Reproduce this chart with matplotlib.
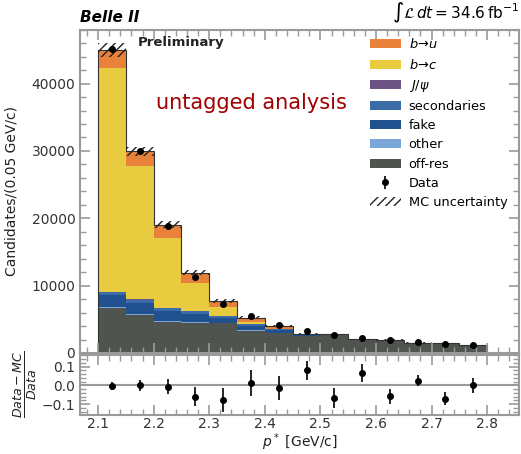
import numpy as np
import matplotlib
matplotlib.use("Agg")
import matplotlib.pyplot as plt

# bin edges in p* [GeV/c]
edges = np.arange(2.10, 2.801, 0.05)

# stacked MC components, bottom to top
off_res = [6730, 5640, 4600, 4500, 4400, 3320, 2920, 2520, 2740, 2000, 1965, 1520, 1480, 1180]
other = [120, 100, 110, 90, 60, 40, 30, 15, 10, 5, 5, 5, 5, 5]
fake = [1700, 1680, 1520, 1240, 780, 680, 420, 110, 30, 10, 5, 5, 5, 5]
secondaries = [520, 510, 470, 390, 250, 210, 130, 40, 10, 5, 5, 0, 0, 0]
jpsi = [40, 40, 30, 20, 10, 10, 10, 5, 0, 0, 0, 0, 0, 0]
b_to_c = [33190, 19820, 10350, 4210, 1280, 290, 100, 30, 0, 0, 0, 0, 0, 0]
b_to_u = [2680, 2160, 1980, 1480, 940, 700, 450, 160, 30, 10, 0, 0, 0, 0]

mc_unc = [1000, 700, 480, 330, 250, 200, 160, 100, 70, 50, 45, 40, 35, 30]

data = [45070, 30010, 18860, 11240, 7280, 5450, 4160, 3270, 2670, 2230, 1880, 1580, 1390, 1190]

ratio = [-0.003, 0.0, -0.008, -0.061, -0.077, 0.014, -0.013, 0.08, -0.068, 0.066, -0.057, 0.025, -0.071, 0.002]
ratio_err = [0.02, 0.03, 0.04, 0.05, 0.065, 0.07, 0.065, 0.05, 0.055, 0.05, 0.04, 0.03, 0.035, 0.04]

components = [
    ("off-res", off_res, "#4f544f"),
    ("other", other, "#7ba7d8"),
    ("fake", fake, "#21508f"),
    ("secondaries", secondaries, "#3b6ca8"),
    (r"$J/\psi$", jpsi, "#6b5483"),
    (r"$b\!\rightarrow\!c$", b_to_c, "#e9cb40"),
    (r"$b\!\rightarrow\!u$", b_to_u, "#e8813a"),
]

spine_col = "#9a9a9a"
plt.rcParams["font.size"] = 10
plt.rcParams["axes.edgecolor"] = spine_col
plt.rcParams["axes.linewidth"] = 1.5
plt.rcParams["xtick.color"] = spine_col
plt.rcParams["ytick.color"] = spine_col
plt.rcParams["xtick.labelcolor"] = "#333333"
plt.rcParams["ytick.labelcolor"] = "#333333"

fig = plt.figure(figsize=(5.21, 4.54), dpi=100)
ax = fig.add_axes([0.154, 0.2225, 0.843, 0.712])
rax = fig.add_axes([0.154, 0.087, 0.843, 0.131], sharex=ax)

centers = 0.5 * (edges[:-1] + edges[1:])
width = edges[1] - edges[0]
bottom = np.zeros(len(centers))
handles = []
for name, vals, col in components:
    vals = np.array(vals, dtype=float)
    h = ax.bar(edges[:-1], vals, width=width, bottom=bottom, align="edge",
               color=col, linewidth=0, label=name)
    handles.append(h)
    bottom = bottom + vals
total = bottom

ax.stairs(total, edges, color="#333333", linewidth=0.8)

unc = np.array(mc_unc, dtype=float)
h_unc = ax.bar(edges[:-1], 2 * unc, width=width, bottom=total - unc, align="edge",
               fill=False, hatch="////", linewidth=0, edgecolor="#222222",
               label="MC uncertainty")

d = np.array(data, dtype=float)
h_data = ax.errorbar(centers, d, yerr=np.sqrt(d), fmt="o", color="black",
                     markersize=4, elinewidth=1.2, capsize=0, label="Data")

ax.set_xlim(2.068, 2.858)
ax.set_ylim(0, 48000)
ax.set_yticks([0, 10000, 20000, 30000, 40000])
ax.yaxis.set_minor_locator(matplotlib.ticker.MultipleLocator(2000))
ax.xaxis.set_minor_locator(matplotlib.ticker.MultipleLocator(0.02))
ax.tick_params(which="both", direction="in", top=True, right=True)
ax.tick_params(which="major", length=7, width=1.2)
ax.tick_params(which="minor", length=4, width=1.0)
ax.tick_params(axis="x", labelbottom=False)
ax.set_ylabel("Candidates/(0.05 GeV/c)", color="#222222", labelpad=9)

ax.text(0.0, 1.015, "Belle II", transform=ax.transAxes, fontsize=11,
        fontweight="bold", fontstyle="italic", ha="left", va="bottom")
ax.text(1.0, 1.015, r"$\int\mathcal{L}\,dt = 34.6\,\mathrm{fb}^{-1}$",
        transform=ax.transAxes, fontsize=11, ha="right", va="bottom")
ax.text(0.13, 0.98, "Preliminary", transform=ax.transAxes, fontsize=9.5,
        fontweight="bold", ha="left", va="top", color="#222222")
ax.text(0.39, 0.774, "untagged analysis", transform=ax.transAxes, fontsize=15,
        color="#a00000", ha="center", va="center")

leg_handles = handles[::-1] + [h_data, h_unc]
leg_labels = [c[0] for c in components[::-1]] + ["Data", "MC uncertainty"]
ax.legend(leg_handles, leg_labels, loc="upper right", frameon=False,
          fontsize=9.3, bbox_to_anchor=(0.99, 1.0), handlelength=2.4,
          handletextpad=0.6, labelspacing=0.48, borderaxespad=0.2)

rax.axhline(0, color=spine_col, linewidth=1.5)
rax.errorbar(centers, ratio, yerr=ratio_err, fmt="o", color="black",
             markersize=4, elinewidth=1.2, capsize=0)
rax.set_ylim(-0.155, 0.162)
rax.set_yticks([-0.1, 0.0, 0.1])
rax.yaxis.set_minor_locator(matplotlib.ticker.MultipleLocator(0.02))
rax.set_xticks([2.1, 2.2, 2.3, 2.4, 2.5, 2.6, 2.7, 2.8])
rax.tick_params(which="both", direction="in", top=True, right=True)
rax.tick_params(which="major", length=7, width=1.2)
rax.tick_params(which="minor", length=4, width=1.0)
rax.tick_params(axis="x", pad=2)
rax.set_xlabel(r"$p^*$ [GeV/c]", color="#222222", labelpad=0)
rax.set_ylabel(r"$\frac{Data-MC}{Data}$", color="#222222", fontsize=13,
               labelpad=2)

fig.savefig("out.png", dpi=100)
